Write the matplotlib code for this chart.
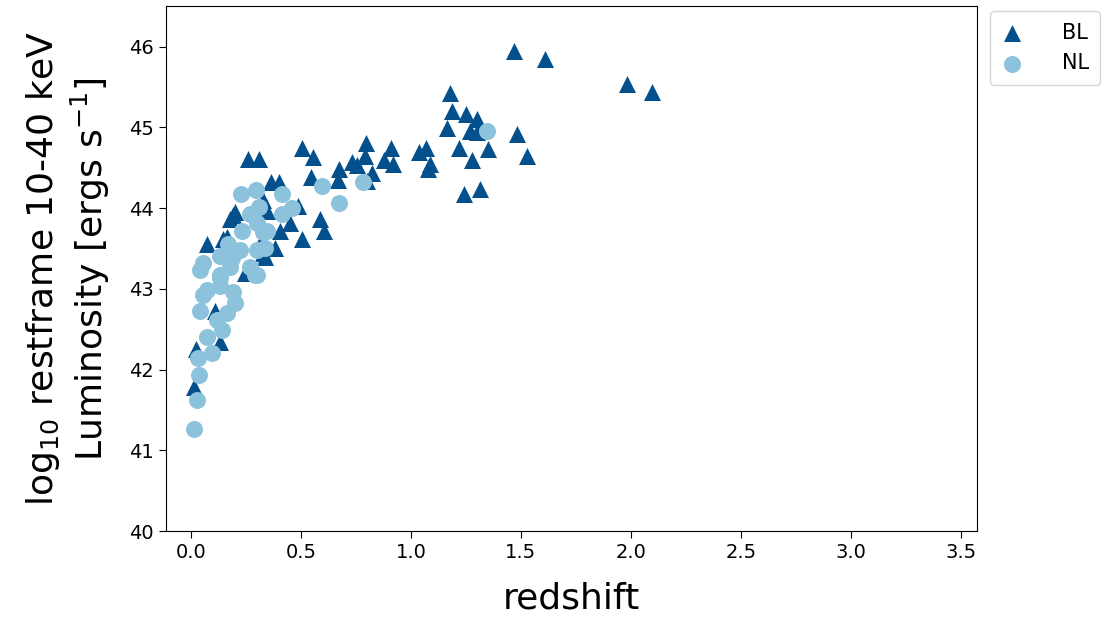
import numpy as np
import matplotlib
matplotlib.use("Agg")
import matplotlib.pyplot as plt

# broad-line sources: redshift and log10 10-40 keV luminosity
bl_z = [1.468, 1.609, 1.982, 2.095, 1.177, 1.186, 1.25, 1.30, 1.164, 1.268,
        1.30, 1.482, 1.218, 1.35, 1.527, 1.277, 1.036, 1.068, 1.086, 1.077,
        1.241, 1.314, 0.909, 0.877, 0.918, 0.795, 0.791, 0.823, 0.755, 0.732,
        0.673, 0.668, 0.505, 0.555, 0.545, 0.586, 0.605, 0.505, 0.45, 0.405,
        0.259, 0.309, 0.364, 0.40, 0.486, 0.382, 0.336, 0.073, 0.20, 0.177,
        0.145, 0.80, 0.191, 0.164, 0.327, 0.345, 0.314, 0.327, 0.277, 0.109,
        0.132, 0.245, 0.023, 0.014]
bl_lum = [45.94, 45.85, 45.54, 45.44, 45.43, 45.20, 45.17, 45.10, 44.99, 44.96,
          44.94, 44.92, 44.75, 44.73, 44.65, 44.60, 44.69, 44.74, 44.54, 44.49,
          44.17, 44.24, 44.74, 44.60, 44.55, 44.80, 44.65, 44.44, 44.53, 44.57,
          44.48, 44.35, 44.75, 44.63, 44.39, 43.87, 43.72, 43.62, 43.82, 43.72,
          44.61, 44.61, 44.32, 44.32, 44.03, 43.50, 43.39, 43.56, 43.95, 43.87,
          43.62, 44.34, 43.91, 43.64, 44.10, 43.97, 43.56, 43.44, 43.23, 42.73,
          42.34, 43.20, 42.25, 41.78]

# narrow-line sources
nl_z = [1.345, 0.595, 0.673, 0.782, 0.414, 0.459, 0.414, 0.227, 0.295, 0.309,
        0.268, 0.232, 0.345, 0.168, 0.055, 0.186, 0.30, 0.132, 0.073, 0.191,
        0.336, 0.041, 0.132, 0.291, 0.055, 0.132, 0.041, 0.20, 0.164, 0.118,
        0.141, 0.073, 0.095, 0.032, 0.036, 0.027, 0.014, 0.30, 0.327, 0.223,
        0.132, 0.30, 0.177, 0.268]
nl_lum = [44.95, 44.27, 44.06, 44.32, 44.18, 44.00, 43.93, 44.18, 44.23, 44.01,
          43.93, 43.71, 43.72, 43.56, 43.32, 43.38, 43.17, 43.17, 42.98, 42.96,
          43.51, 43.23, 43.14, 43.17, 42.92, 43.04, 42.73, 42.83, 42.70, 42.61,
          42.49, 42.40, 42.21, 42.14, 41.93, 41.62, 41.27, 43.81, 43.70, 43.48,
          43.41, 43.48, 43.27, 43.27]

fig = plt.figure(figsize=(11.05, 6.19), dpi=100)
ax = fig.add_axes([0.150, 0.142, 0.734, 0.848])

ax.scatter(bl_z, bl_lum, marker="^", s=150, color="#03508c", label="BL", linewidths=0)
ax.scatter(nl_z, nl_lum, marker="o", s=150, color="#8cc2db", label="NL", linewidths=0)

ax.set_xlim(-0.115, 3.573)
ax.set_ylim(40, 46.5)
ax.set_xticks(np.arange(0, 3.6, 0.5))
ax.set_yticks(range(40, 47))
ax.tick_params(labelsize=14, length=5)

ax.set_xlabel("redshift", fontsize=26, labelpad=14)
ax.set_ylabel("log$_{10}$ restframe 10-40 keV\nLuminosity [ergs s$^{-1}$]", fontsize=26, labelpad=12)

leg = ax.legend(loc="upper left", bbox_to_anchor=(1.003, 1.01), fontsize=15,
                handlelength=1.0, handletextpad=1.9, borderpad=0.55, labelspacing=0.5)
leg.get_frame().set_edgecolor("#cccccc")

fig.savefig("out.png", dpi=100)
